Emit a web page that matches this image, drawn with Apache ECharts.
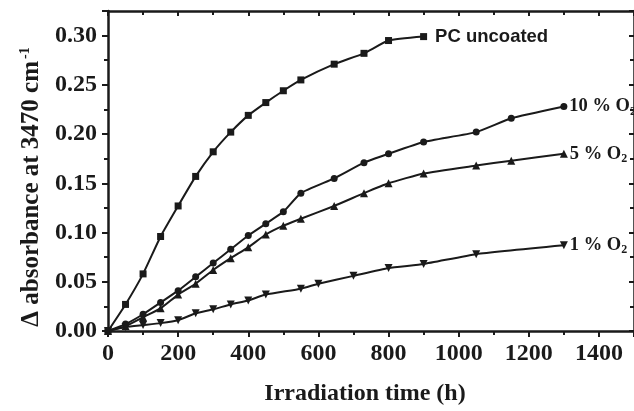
<!DOCTYPE html>
<html>
<head>
<meta charset="utf-8">
<script src="https://cdn.jsdelivr.net/npm/echarts@6/dist/echarts.min.js"></script>
<style>
html,body{margin:0;padding:0;background:#fff;}
#main{width:634px;height:411px;}
</style>
</head>
<body>
<div id="main"></div>
<script>
// ---- data ----
const pcTime = [0, 50, 100, 150, 200, 250, 300, 350, 400, 450, 500, 550, 645, 730, 800, 900];
const pcAbs  = [0, 0.027, 0.058, 0.096, 0.127, 0.157, 0.182, 0.202, 0.219, 0.232, 0.244, 0.255, 0.271, 0.282, 0.295, 0.299];

const o10Time = [0, 50, 100, 150, 200, 250, 300, 350, 400, 450, 500, 550, 645, 730, 800, 900, 1050, 1150, 1300];
const o10Abs  = [0, 0.007, 0.017, 0.029, 0.041, 0.055, 0.069, 0.083, 0.097, 0.109, 0.121, 0.140, 0.155, 0.171, 0.180, 0.192, 0.202, 0.216, 0.228];

const o5Time = [0, 50, 100, 150, 200, 250, 300, 350, 400, 450, 500, 550, 645, 730, 800, 900, 1050, 1150, 1300];
const o5Abs  = [0, 0.005, 0.014, 0.023, 0.037, 0.048, 0.062, 0.074, 0.085, 0.098, 0.107, 0.114, 0.127, 0.140, 0.150, 0.160, 0.168, 0.173, 0.180];

const o1Time = [0, 50, 100, 150, 200, 250, 300, 350, 400, 450, 550, 600, 700, 800, 900, 1050, 1300];
const o1Abs  = [0, 0.004, 0.006, 0.008, 0.011, 0.018, 0.022, 0.027, 0.031, 0.037, 0.043, 0.048, 0.056, 0.064, 0.068, 0.078, 0.087];

const seriesLabels = ['PC uncoated', '10 % O', '5 % O', '1 % O'];
const xTicks = [0, 200, 400, 600, 800, 1000, 1200, 1400];
const yTicks = ['0.00', '0.05', '0.10', '0.15', '0.20', '0.25', '0.30'];

const ink = '#1a1a1a';
const serif = '"Liberation Serif", "Times New Roman", serif';
const sans = '"Liberation Sans", Arial, sans-serif';

function build(ts, vs, labelCfg) {
  return ts.map((t, i) => {
    if (i === ts.length - 1) {
      return { value: [t, vs[i]], label: labelCfg };
    }
    return [t, vs[i]];
  });
}

const subRich = {
  a: { fontFamily: serif, fontWeight: 'bold', fontSize: 18.5, color: ink, lineHeight: 22 },
  s: { fontFamily: serif, fontWeight: 'bold', fontSize: 12, color: ink, verticalAlign: 'bottom', lineHeight: 22, padding: [13, 0, 0, 0] }
};

function endLabel(main, withSub) {
  return {
    show: true,
    position: 'right',
    distance: 2,
    formatter: withSub ? '{a|' + main + '}{s|2}' : '{a|' + main + '}',
    rich: subRich
  };
}

const chart = echarts.init(document.getElementById('main'), null, { renderer: 'canvas' });

const axisLine = { show: true, onZero: false, lineStyle: { color: ink, width: 2.5 } };

const option = {
  animation: false,
  backgroundColor: '#fff',
  grid: { left: 108, right: -6, top: 11, bottom: 74.5, containLabel: false },
  xAxis: [
    {
      type: 'value', min: 0, max: 1500, interval: 200,
      position: 'bottom',
      axisLine: axisLine,
      axisTick: { show: true, inside: false, length: 6, lineStyle: { color: ink, width: 2 } },
      minorTick: { show: true, splitNumber: 2, length: 4, lineStyle: { color: ink, width: 2 } },
      splitLine: { show: false },
      axisLabel: {
        margin: 11,
        fontFamily: serif, fontWeight: 'bold', fontSize: 24, color: ink,
        showMaxLabel: false,
        formatter: v => (xTicks.indexOf(v) >= 0 ? String(v) : '')
      },
      name: 'Irradiation time (h)',
      nameLocation: 'middle',
      nameGap: 51,
      nameTextStyle: { fontFamily: serif, fontWeight: 'bold', fontSize: 24, color: ink, padding: [0, 12, 0, 0] }
    },
    {
      type: 'value', min: 0, max: 1500, interval: 200,
      position: 'top',
      axisLine: axisLine,
      axisTick: { show: true, inside: true, length: 5, lineStyle: { color: ink, width: 2 } },
      minorTick: { show: true, splitNumber: 2, length: 4, lineStyle: { color: ink, width: 2 } },
      splitLine: { show: false },
      axisLabel: { show: false }
    }
  ],
  yAxis: [
    {
      type: 'value', min: 0, max: 0.325, interval: 0.05,
      position: 'left',
      axisLine: axisLine,
      axisTick: { show: true, inside: false, length: 6, lineStyle: { color: ink, width: 2 } },
      minorTick: { show: true, splitNumber: 2, length: 4, lineStyle: { color: ink, width: 2 } },
      splitLine: { show: false },
      axisLabel: {
        margin: 11,
        fontFamily: serif, fontWeight: 'bold', fontSize: 24, color: ink,
        showMaxLabel: false,
        formatter: v => {
          const k = Math.round(v / 0.05);
          return (Math.abs(v - k * 0.05) < 1e-6 && yTicks[k]) ? yTicks[k] : '';
        }
      },
      name: '{a|Δ absorbance at 3470 cm}{s|-1}',
      nameLocation: 'middle',
      nameGap: 63,
      nameRotate: 90,
      nameTextStyle: {
        padding: [0, 32, 0, 0],
        rich: {
          a: { fontFamily: serif, fontWeight: 'bold', fontSize: 25, color: ink, lineHeight: 27 },
          s: { fontFamily: serif, fontWeight: 'bold', fontSize: 14, color: ink, verticalAlign: 'top', lineHeight: 27, padding: [0, 0, 10, 2] }
        }
      }
    },
    {
      type: 'value', min: 0, max: 0.325, interval: 0.05,
      position: 'right',
      axisLine: axisLine,
      axisTick: { show: true, inside: true, length: 5, lineStyle: { color: ink, width: 2 } },
      minorTick: { show: true, splitNumber: 2, length: 4, lineStyle: { color: ink, width: 2 } },
      splitLine: { show: false },
      axisLabel: { show: false }
    }
  ],
  series: [
    {
      name: seriesLabels[0], type: 'line',
      data: build(pcTime, pcAbs, {
        show: true, position: 'right', distance: 8,
        formatter: seriesLabels[0],
        fontFamily: sans, fontWeight: 'bold', fontSize: 18.5, color: ink
      }),
      symbol: 'rect', symbolSize: 7,
      lineStyle: { color: ink, width: 2 }, itemStyle: { color: ink },
      smooth: 0.15
    },
    {
      name: seriesLabels[1], type: 'line',
      data: build(o10Time, o10Abs, endLabel(seriesLabels[1], true)),
      symbol: 'circle', symbolSize: 7,
      lineStyle: { color: ink, width: 2 }, itemStyle: { color: ink },
      smooth: 0.15
    },
    {
      name: seriesLabels[2], type: 'line',
      data: build(o5Time, o5Abs, endLabel(seriesLabels[2], true)),
      symbol: 'triangle', symbolSize: 8,
      lineStyle: { color: ink, width: 2 }, itemStyle: { color: ink },
      smooth: 0.15
    },
    {
      name: seriesLabels[3], type: 'line',
      data: build(o1Time, o1Abs, endLabel(seriesLabels[3], true)),
      symbol: 'triangle', symbolRotate: 180, symbolSize: 8,
      lineStyle: { color: ink, width: 2 }, itemStyle: { color: ink },
      smooth: 0.15
    }
  ]
};

chart.setOption(option);
</script>
</body>
</html>
